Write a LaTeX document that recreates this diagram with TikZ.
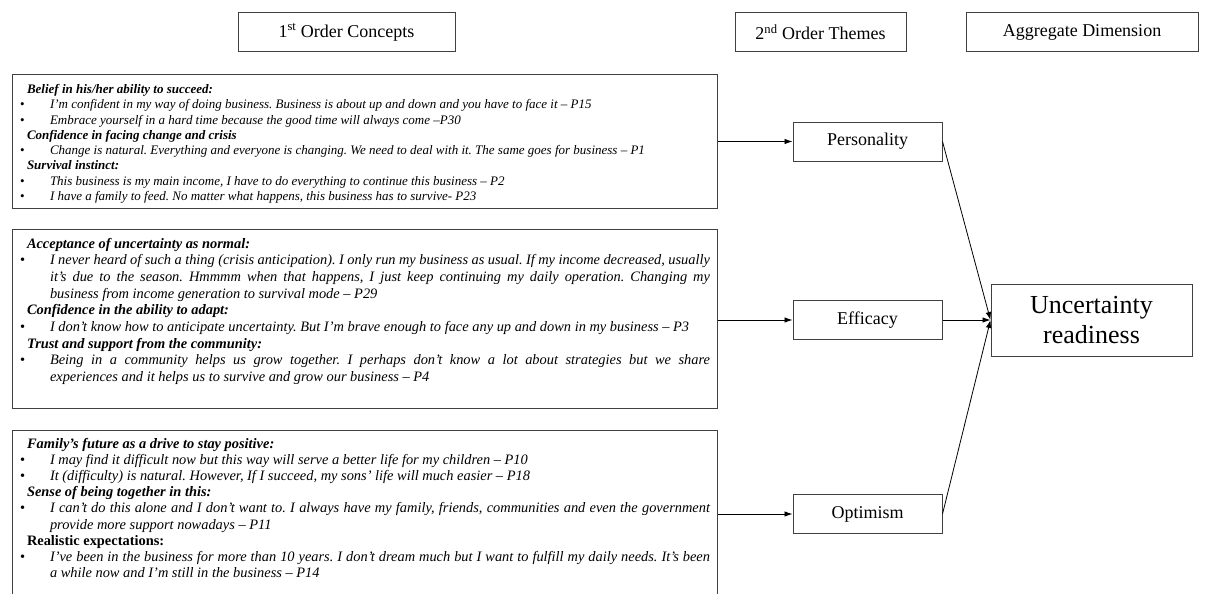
\documentclass[tikz,border=0pt]{standalone}
\usepackage{fontspec}
\setmainfont{Liberation Serif}
\usetikzlibrary{arrows.meta}

\newcommand{\conhead}[1]{\noindent\hspace*{7pt}\textbf{\textit{#1}}\par}
\newcommand{\quoteitem}[1]{\noindent\hangindent=30pt\hangafter=1\makebox[30pt][l]{\textbullet}\textit{#1}\par}

\begin{document}
\begin{tikzpicture}[x=1pt,y=-1pt,
    titlebox/.style={draw=black!75,line width=1pt,minimum height=39pt,inner sep=0pt,font=\fontsize{18}{20}\selectfont},
    themebox/.style={draw=black!75,line width=1pt,minimum width=149pt,minimum height=39pt,inner sep=0pt,font=\fontsize{18}{20}\selectfont},
    quotebox/.style={draw=black!75,line width=1pt,anchor=north west,inner xsep=7.5pt,inner ysep=0pt,text width=690pt,align=justify},
    link/.style={-{Latex[length=8pt,width=5.5pt]},line width=0.8pt}]
    \useasboundingbox (0,0) rectangle (1208,594);
    % column headers
    \node[titlebox,minimum width=217pt] (first) at (346.5,32.5) {1\textsuperscript{st} Order Concepts};
    \node[titlebox,minimum width=171pt] (second) at (820.5,32.5) {2\textsuperscript{nd} Order Themes};
    \node[titlebox,minimum width=232pt] (aggr) at (1082,32.5) {Aggregate Dimension};
    % first order concepts
    \node[quotebox,text height=19pt,text depth=115pt,font=\fontsize{13}{15.3}\selectfont\frenchspacing] (pers-q) at (12,74) {%
      \conhead{Belief in his/her ability to succeed:}
      \quoteitem{I'm confident in my way of doing business. Business is about up and down and you have to face it -- P15}
      \quoteitem{Embrace yourself in a hard time because the good time will always come --P30}
      \conhead{Confidence in facing change and crisis}
      \quoteitem{Change is natural. Everything and everyone is changing. We need to deal with it. The same goes for business -- P1}
      \conhead{Survival instinct:}
      \quoteitem{This business is my main income, I have to do everything to continue this business -- P2}
      \quoteitem{I have a family to feed. No matter what happens, this business has to survive- P23}};
    \node[quotebox,text height=18.5pt,text depth=160.5pt,font=\fontsize{14.4}{16.7}\selectfont\frenchspacing] (effi-q) at (12,229) {%
      \conhead{Acceptance of uncertainty as normal:}
      \quoteitem{I never heard of such a thing (crisis anticipation). I only run my business as usual. If my income decreased, usually\linebreak
        it's due to the season. Hmmmm when that happens, I just keep continuing my daily operation. Changing my\linebreak
        business from income generation to survival mode -- P29}
      \conhead{Confidence in the ability to adapt:}
      \quoteitem{I don't know how to anticipate uncertainty. But I'm brave enough to face any up and down in my business -- P3}
      \conhead{Trust and support from the community:}
      \quoteitem{Being in a community helps us grow together. I perhaps don't know a lot about strategies but we share\linebreak
        experiences and it helps us to survive and grow our business -- P4}};
    \node[quotebox,text height=17.5pt,text depth=200pt,font=\fontsize{14.4}{16.2}\selectfont\frenchspacing] (opti-q) at (12,430) {%
      \conhead{Family's future as a drive to stay positive:}
      \quoteitem{I may find it difficult now but this way will serve a better life for my children -- P10}
      \quoteitem{It (difficulty) is natural. However, If I succeed, my sons' life will much easier -- P18}
      \conhead{Sense of being together in this:}
      \quoteitem{I can't do this alone and I don't want to. I always have my family, friends, communities and even the government\linebreak
        provide more support nowadays -- P11}
      \conhead{\textup{Realistic expectations:}}
      \quoteitem{I've been in the business for more than 10 years. I don't dream much but I want to fulfill my daily needs. It's been\linebreak
        a while now and I'm still in the business -- P14}};
    % second order themes
    \node[themebox] (pers) at (867.5,141.5) {Personality};
    \node[themebox] (effi) at (867.5,320) {Efficacy};
    \node[themebox] (opti) at (867.5,514) {Optimism};
    % aggregate dimension
    \node[draw=black!75,line width=1pt,minimum width=201pt,minimum height=72pt,inner sep=0pt,align=center,font=\fontsize{26}{30}\selectfont] (ready) at (1091.5,320) {Uncertainty\\readiness};
    \draw[link] (pers-q.east |- pers.west) -- (pers.west);
    \draw[link] (effi-q.east |- effi.west) -- (effi.west);
    \draw[link] (opti-q.east |- opti.west) -- (opti.west);
    \draw[link] (pers.east) -- (ready.west);
    \draw[link] (effi.east) -- (ready.west);
    \draw[link] (opti.east) -- (ready.west);
\end{tikzpicture}
\end{document}
